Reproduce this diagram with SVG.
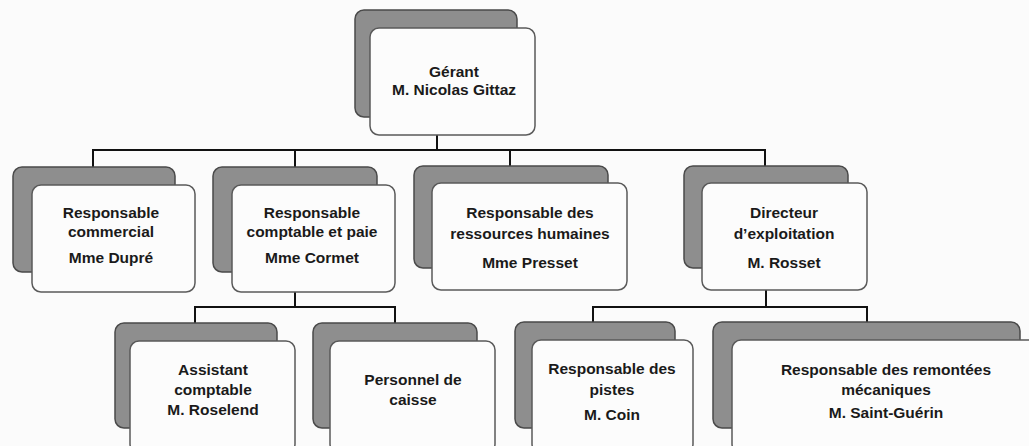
<svg xmlns="http://www.w3.org/2000/svg" width="1029" height="446" viewBox="0 0 1029 446">
  <style>
    .back { fill: #8e8e8e; stroke: #4a4a4a; stroke-width: 1.5; }
    .front { fill: #fcfcfc; stroke: #5a5a5a; stroke-width: 1.5; }
    .lbl { font-family: "Liberation Sans", Arial, sans-serif; font-weight: bold; font-size: 15.5px; fill: #1a1a1a; text-anchor: middle; }
    .conn { fill: none; stroke: #111; stroke-width: 2; }
  </style>
  <rect x="0" y="0" width="1029" height="446" fill="#fbfbfb"/>

  <g id="connectors">
    <path class="conn" d="M437 135 V150"/>
    <path class="conn" d="M93 168 V150 H765 V166"/>
    <path class="conn" d="M295 150 V168"/>
    <path class="conn" d="M510 150 V166"/>
    <path class="conn" d="M295 292 V307"/>
    <path class="conn" d="M195 324 V307 H395 V324"/>
    <path class="conn" d="M766 290 V307"/>
    <path class="conn" d="M593 323 V307 H867 V323"/>
  </g>

  <g id="node-gerant">
    <rect class="back" x="355" y="10" width="162" height="107" rx="9"/>
    <rect class="front" x="370" y="28" width="165" height="107" rx="9"/>
    <text class="lbl" x="454" y="77">Gérant</text>
    <text class="lbl" x="454" y="95">M. Nicolas Gittaz</text>
  </g>

  <g id="node-commercial">
    <rect class="back" x="13" y="167" width="162" height="105" rx="9"/>
    <rect class="front" x="32" y="185" width="163" height="107" rx="9"/>
    <text class="lbl" x="111" y="218">Responsable</text>
    <text class="lbl" x="111" y="237">commercial</text>
    <text class="lbl" x="111" y="263">Mme Dupré</text>
  </g>

  <g id="node-comptable">
    <rect class="back" x="213" y="167" width="164" height="105" rx="9"/>
    <rect class="front" x="232" y="185" width="163" height="107" rx="9"/>
    <text class="lbl" x="312" y="218">Responsable</text>
    <text class="lbl" x="312" y="237">comptable et paie</text>
    <text class="lbl" x="312" y="263">Mme Cormet</text>
  </g>

  <g id="node-rh">
    <rect class="back" x="414" y="166" width="194" height="102" rx="9"/>
    <rect class="front" x="432" y="183" width="195" height="107" rx="9"/>
    <text class="lbl" x="530" y="218">Responsable des</text>
    <text class="lbl" x="530" y="239">ressources humaines</text>
    <text class="lbl" x="530" y="268">Mme Presset</text>
  </g>

  <g id="node-exploitation">
    <rect class="back" x="684" y="166" width="164" height="102" rx="9"/>
    <rect class="front" x="702" y="183" width="165" height="107" rx="9"/>
    <text class="lbl" x="784" y="218">Directeur</text>
    <text class="lbl" x="784" y="239">d’exploitation</text>
    <text class="lbl" x="784" y="268">M. Rosset</text>
  </g>

  <g id="node-assistant">
    <rect class="back" x="115" y="323" width="162" height="105" rx="9"/>
    <rect class="front" x="130" y="341" width="165" height="112" rx="9"/>
    <text class="lbl" x="213" y="375">Assistant</text>
    <text class="lbl" x="213" y="395">comptable</text>
    <text class="lbl" x="213" y="415">M. Roselend</text>
  </g>

  <g id="node-caisse">
    <rect class="back" x="313" y="323" width="164" height="105" rx="9"/>
    <rect class="front" x="330" y="341" width="165" height="112" rx="9"/>
    <text class="lbl" x="413" y="385">Personnel de</text>
    <text class="lbl" x="413" y="405">caisse</text>
  </g>

  <g id="node-pistes">
    <rect class="back" x="515" y="322" width="160" height="106" rx="9"/>
    <rect class="front" x="532" y="340" width="161" height="113" rx="9"/>
    <text class="lbl" x="612" y="374">Responsable des</text>
    <text class="lbl" x="612" y="395">pistes</text>
    <text class="lbl" x="612" y="420">M. Coin</text>
  </g>

  <g id="node-remontees">
    <rect class="back" x="713" y="322" width="307" height="106" rx="9"/>
    <rect class="front" x="732" y="340" width="310" height="113" rx="9"/>
    <text class="lbl" x="886" y="375">Responsable des remontées</text>
    <text class="lbl" x="886" y="395">mécaniques</text>
    <text class="lbl" x="886" y="418">M. Saint-Guérin</text>
  </g>
</svg>
